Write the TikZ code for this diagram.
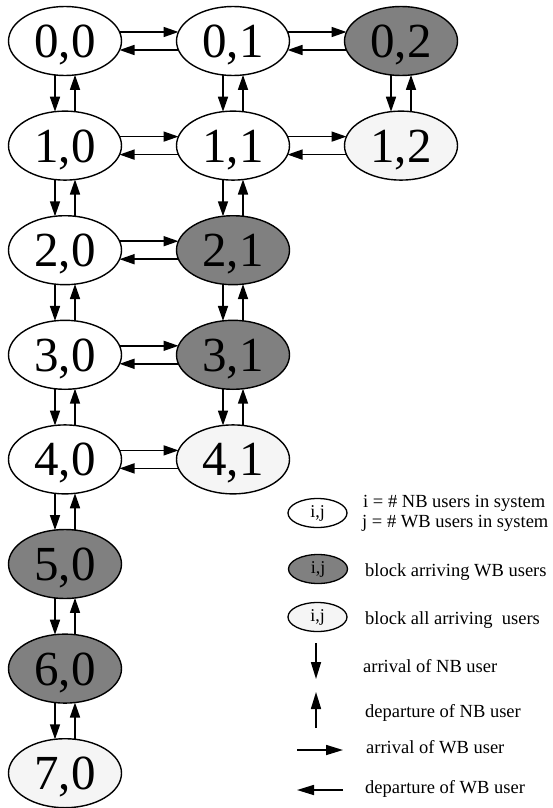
\documentclass[tikz,border=0pt]{standalone}
\usepackage{fontspec}
\setmainfont{Liberation Serif}
\usetikzlibrary{shapes.geometric,arrows.meta}
\definecolor{darkfill}{HTML}{808080}
\definecolor{lightfill}{HTML}{F5F5F5}
\tikzset{
 st/.style={ellipse, draw, line width=1.4pt, minimum width=113pt, minimum height=69pt, inner sep=0pt, outer sep=0pt,
   font=\fontsize{49}{50}\selectfont, text height=33pt, text depth=0pt, fill=white},
 gst/.style={st, fill=darkfill},
 lst/.style={st, fill=lightfill},
 arr/.style={-{Triangle[length=15pt,width=10pt]}, line width=1.6pt},
 larr/.style={-{Triangle[length=17pt,width=10pt]}, line width=1.6pt},
 leg/.style={ellipse, draw, line width=1.3pt, minimum width=59pt, minimum height=29pt, inner sep=0pt,
   font=\fontsize{18}{20}\selectfont},
 ltxt/.style={anchor=base west, font=\fontsize{18.5}{20}\selectfont, inner sep=0pt},
}
\newcommand\hpair[2]{%
  \draw[arr] ([shift={(-2,-9)}]#1.east) -- ([shift={(2,-9)}]#2.west);
  \draw[arr] ([shift={(2,9)}]#2.west) -- ([shift={(-2,9)}]#1.east);}
\newcommand\vpair[2]{%
  \draw[arr] ([shift={(-10,-0.6)}]#1.south) -- ([shift={(-10,0.6)}]#2.north);
  \draw[arr] ([shift={(10,0.6)}]#2.north) -- ([shift={(10,-0.6)}]#1.south);}
\begin{document}
\begin{tikzpicture}[x=1pt,y=-1pt]
\path[use as bounding box] (0,0) rectangle (553,808);
% states
\node[st]  (n00) at (65,41) {0,0};
\node[st]  (n01) at (233,41) {0,1};
\node[gst] (n02) at (401,41) {0,2};
\node[st]  (n10) at (65,145.6) {1,0};
\node[st]  (n11) at (233,145.6) {1,1};
\node[lst] (n12) at (401,145.6) {1,2};
\node[st]  (n20) at (65,250.2) {2,0};
\node[gst] (n21) at (233,250.2) {2,1};
\node[st]  (n30) at (65,354.8) {3,0};
\node[gst] (n31) at (233,354.8) {3,1};
\node[st]  (n40) at (65,459.4) {4,0};
\node[lst] (n41) at (233,459.4) {4,1};
\node[gst] (n50) at (65,564) {5,0};
\node[gst] (n60) at (65,668.6) {6,0};
\node[lst] (n70) at (65,773.2) {7,0};
% transitions
\hpair{n00}{n01}\hpair{n01}{n02}
\hpair{n10}{n11}\hpair{n11}{n12}
\hpair{n20}{n21}\hpair{n30}{n31}\hpair{n40}{n41}
\vpair{n00}{n10}\vpair{n01}{n11}\vpair{n02}{n12}
\vpair{n10}{n20}\vpair{n11}{n21}
\vpair{n20}{n30}\vpair{n21}{n31}
\vpair{n30}{n40}\vpair{n31}{n41}
\vpair{n40}{n50}\vpair{n50}{n60}\vpair{n60}{n70}
% legend
\node[leg, fill=white]     (l1) at (317.5,513) {i,j};
\node[leg, fill=darkfill]  (l2) at (318,569) {i,j};
\node[leg, fill=lightfill] (l3) at (317.5,617) {i,j};
\node[ltxt] (t1a) at (363,507) {i = \# NB users in system};
\node[ltxt] (t1b) at (362,527) {j = \# WB users in system};
\node[ltxt] (t2) at (365,576) {block arriving WB users};
\node[ltxt] (t3) at (365,624) {block all arriving\ \ users};
\node[ltxt] (t4) at (363,672) {arrival of NB user};
\node[ltxt] (t5) at (365,717) {departure of NB user};
\node[ltxt] (t6) at (366,753) {arrival of WB user};
\node[ltxt] (t7) at (365,793) {departure of WB user};
\coordinate (a1s) at (316,643); \coordinate (a1e) at (316,679);
\coordinate (a2s) at (316,728); \coordinate (a2e) at (316,692);
\coordinate (a3s) at (297,750); \coordinate (a3e) at (343,750);
\coordinate (a4s) at (343,790); \coordinate (a4e) at (297,790);
\draw[larr] (a1s) -- (a1e);
\draw[larr] (a2s) -- (a2e);
\draw[larr] (a3s) -- (a3e);
\draw[larr] (a4s) -- (a4e);
\end{tikzpicture}
\end{document}
